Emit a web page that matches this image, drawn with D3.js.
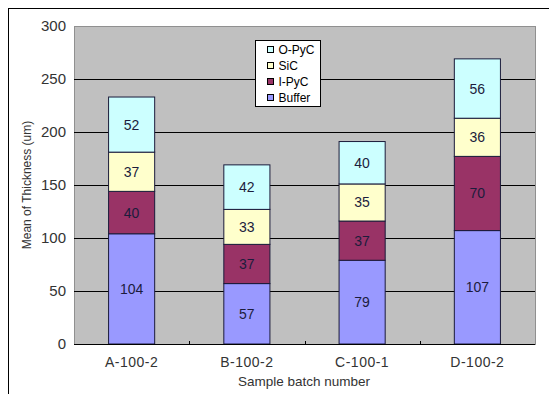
<!DOCTYPE html>
<html>
<head>
<meta charset="utf-8">
<script src="https://cdn.jsdelivr.net/npm/d3@7"></script>
<style>
  body { margin: 0; background: #fff; }
  svg { display: block; font-family: "Liberation Sans", Arial, sans-serif; }
</style>
</head>
<body>
<div id="chart"></div>
<script>
// data
const categories = ["A-100-2", "B-100-2", "C-100-1", "D-100-2"];
const seriesNames = ["Buffer", "I-PyC", "SiC", "O-PyC"];
const buffer = [104, 57, 79, 107];
const iPyC = [40, 37, 37, 70];
const sic = [37, 33, 35, 36];
const oPyC = [52, 42, 40, 56];
const yTicks = [0, 50, 100, 150, 200, 250, 300];

const colors = {"Buffer": "#9999ff", "I-PyC": "#993366", "SiC": "#ffffcc", "O-PyC": "#ccffff"};

const width = 549, height = 394;
const plot = {left: 74, right: 535, top: 26, bottom: 344};

const svg = d3.select("#chart").append("svg")
  .attr("width", width).attr("height", height);

// outer frame
svg.append("rect")
  .attr("x", 8.5).attr("y", 8.5)
  .attr("width", 600).attr("height", 400)
  .attr("fill", "none").attr("stroke", "#000").attr("stroke-width", 1);

const x = d3.scaleBand().domain(categories)
  .range([plot.left, plot.right]).paddingInner(0.6).paddingOuter(0.3);
const xOuter = d3.scaleBand().domain(categories).range([plot.left, plot.right]);
const y = d3.scaleLinear().domain([0, 300]).range([plot.bottom, plot.top]);

// plot background
svg.append("rect")
  .attr("x", plot.left + 0.5).attr("y", plot.top + 0.5)
  .attr("width", plot.right - plot.left).attr("height", plot.bottom - plot.top)
  .attr("fill", "#c0c0c0").attr("stroke", "#909090");

// gridlines
svg.append("g").selectAll("line").data(yTicks.filter(d => d > 0 && d < 300)).enter()
  .append("line")
  .attr("x1", plot.left).attr("x2", plot.right)
  .attr("y1", d => Math.round(y(d)) + 0.5).attr("y2", d => Math.round(y(d)) + 0.5)
  .attr("stroke", "#000");

// y tick labels
svg.append("g").selectAll("text").data(yTicks).enter()
  .append("text")
  .attr("x", plot.left - 8).attr("y", d => y(d) + 5)
  .attr("text-anchor", "end")
  .style("font-size", "15px").attr("fill", "#333")
  .text(d => d);

// stacked bars
const rows = categories.map((c, i) => ({
  cat: c, "Buffer": buffer[i], "I-PyC": iPyC[i], "SiC": sic[i], "O-PyC": oPyC[i]
}));
const stacked = d3.stack().keys(seriesNames)(rows);

const layer = svg.append("g").selectAll("g").data(stacked).enter()
  .append("g").attr("fill", d => colors[d.key]);

layer.selectAll("rect").data(d => d).enter()
  .append("rect")
  .attr("x", d => x(d.data.cat))
  .attr("y", d => y(d[1]))
  .attr("width", x.bandwidth())
  .attr("height", d => y(d[0]) - y(d[1]))
  .attr("stroke", "#1a1a3a").attr("stroke-width", 1);

layer.selectAll("text").data(d => d).enter()
  .append("text")
  .attr("x", d => x(d.data.cat) + x.bandwidth() / 2)
  .attr("y", d => (y(d[0]) + y(d[1])) / 2 + 5)
  .attr("text-anchor", "middle")
  .attr("fill", "#1c1c3c")
  .style("font-size", "14px")
  .text(d => d[1] - d[0]);

// x axis line and ticks
svg.append("line")
  .attr("x1", plot.left).attr("x2", plot.right)
  .attr("y1", plot.bottom + 0.5).attr("y2", plot.bottom + 0.5)
  .attr("stroke", "#000");
svg.append("g").selectAll("line").data(categories.slice(1)).enter()
  .append("line")
  .attr("x1", d => Math.round(xOuter(d)) + 0.5).attr("x2", d => Math.round(xOuter(d)) + 0.5)
  .attr("y1", plot.bottom - 3).attr("y2", plot.bottom + 1)
  .attr("stroke", "#000");

svg.append("g").selectAll("text").data(categories).enter()
  .append("text")
  .attr("x", d => xOuter(d) + xOuter.bandwidth() / 2)
  .attr("y", plot.bottom + 23)
  .attr("text-anchor", "middle")
  .style("font-size", "14px").style("letter-spacing", "0.5px").attr("fill", "#333")
  .text(d => d);

// axis titles
svg.append("text")
  .attr("x", 304).attr("y", 386)
  .attr("text-anchor", "middle")
  .style("font-size", "13.5px").attr("fill", "#333")
  .text("Sample batch number");

svg.append("text")
  .attr("transform", "translate(31,185) rotate(-90)")
  .attr("text-anchor", "middle")
  .style("font-size", "12px").attr("fill", "#333")
  .text("Mean of Thickness (um)");

// legend
const legend = svg.append("g").attr("transform", "translate(255.5,40.5)");
legend.append("rect")
  .attr("width", 65).attr("height", 66)
  .attr("fill", "#fff").attr("stroke", "#000");
const legendItems = seriesNames.slice().reverse();
const li = legend.selectAll("g.item").data(legendItems).enter()
  .append("g").attr("class", "item")
  .attr("transform", (d, i) => "translate(12," + (9 + i * 16) + ")");
li.append("rect")
  .attr("x", 0).attr("y", -3)
  .attr("width", 6).attr("height", 6)
  .attr("fill", d => colors[d]).attr("stroke", "#000");
li.append("text")
  .attr("x", 11).attr("y", 4.5)
  .style("font-size", "12px").attr("fill", "#000")
  .text(d => d);
</script>
</body>
</html>
